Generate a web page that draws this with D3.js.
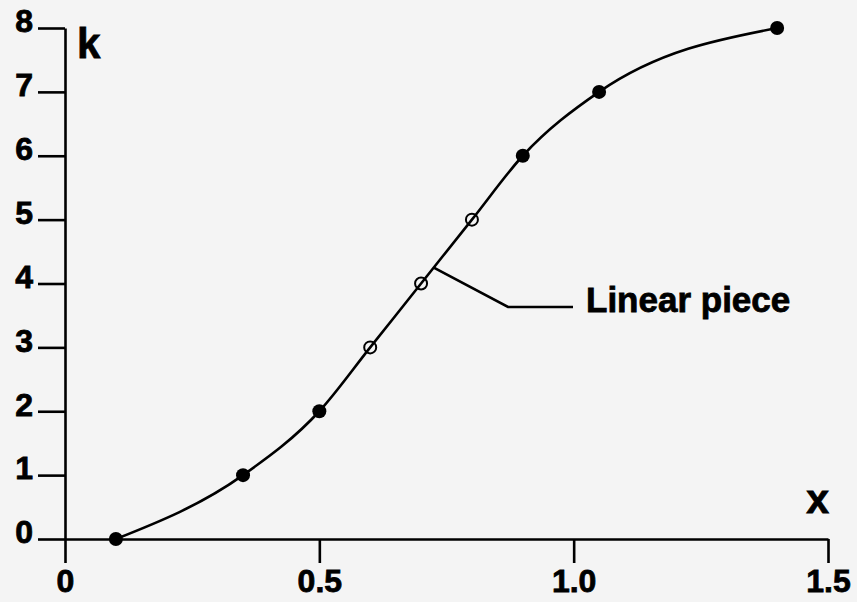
<!DOCTYPE html>
<html lang="en">
	<head>
		<meta charset="utf-8">
		<title>k vs x</title>
		<script type="text/javascript" src="https://cdn.jsdelivr.net/npm/d3@7"></script>
		<style type="text/css">
			body { margin: 0; background: #f4f4f4; }
			svg { display: block; }
			text { font-family: "Liberation Sans", Arial, sans-serif; font-weight: bold; fill: #000; stroke: #000; stroke-width: 0.8px; }
		</style>
	</head>
	<body>
		<script type="text/javascript">

			//Width and height
			var w = 857;
			var h = 602;

			//Data
			var xValues = [0.1, 0.35, 0.5, 0.6, 0.7, 0.8, 0.9, 1.05, 1.4];
			var kValues = [0, 1, 2, 3, 4, 5, 6, 7, 8];
			var hollow = [false, false, false, true, true, true, false, false, false];

			var xTicks = [0, 0.5, 1.0, 1.5];
			var xTickLabels = ["0", "0.5", "1.0", "1.5"];
			var yTicks = [0, 1, 2, 3, 4, 5, 6, 7, 8];

			var annotation = "Linear piece";
			var annotationAt = 0.725;   // x where the leader touches the curve

			var dataset = xValues.map(function(x, i) {
				return { x: x, k: kValues[i], open: hollow[i] };
			});

			//Scales
			var xScale = d3.scaleLinear()
						   .domain([0, 1.5])
						   .range([65, 828]);

			var yScale = d3.scaleLinear()
						   .domain([0, 8])
						   .range([539, 28]);

			var svg = d3.select("body")
						.append("svg")
						.attr("width", w)
						.attr("height", h);

			svg.append("rect")
			   .attr("width", w)
			   .attr("height", h)
			   .attr("fill", "#f4f4f4");

			//X axis
			var xAxis = d3.axisBottom(xScale)
						  .tickValues(xTicks)
						  .tickFormat(function(d, i) { return xTickLabels[i]; })
						  .tickSizeInner(24)
						  .tickSizeOuter(0)
						  .tickPadding(6);

			var gx = svg.append("g")
				.attr("transform", "translate(0," + yScale(0) + ")")
				.call(xAxis);

			//Y axis
			var yAxis = d3.axisLeft(yScale)
						  .tickValues(yTicks)
						  .tickSizeInner(27)
						  .tickSizeOuter(0)
						  .tickPadding(5);

			var gy = svg.append("g")
				.attr("transform", "translate(" + xScale(0) + ",0)")
				.call(yAxis);

			[gx, gy].forEach(function(g) {
				g.attr("font-family", null).attr("font-size", null);
				g.selectAll("path, line")
				 .attr("stroke", "#000")
				 .attr("stroke-width", 2.6);
				g.selectAll("text")
				 .attr("font-size", "32px")
				 .attr("fill", "#000");
			});
			gy.selectAll("text").attr("dy", "0.12em");

			//Axis names
			svg.append("text")
			   .attr("x", 77)
			   .attr("y", 58)
			   .attr("font-size", "42px")
			   .text("k");

			svg.append("text")
			   .attr("x", 829)
			   .attr("y", 513)
			   .attr("text-anchor", "end")
			   .attr("font-size", "41px")
			   .text("x");

			//Curve
			var line = d3.line()
						 .x(function(d) { return xScale(d.x); })
						 .y(function(d) { return yScale(d.k); })
						 .curve(d3.curveMonotoneX);

			svg.append("path")
			   .datum(dataset)
			   .attr("d", line)
			   .attr("fill", "none")
			   .attr("stroke", "#000")
			   .attr("stroke-width", 2.6);

			//Leader line for the annotation
			var ax = xScale(annotationAt);
			var ay = yScale(4 + (annotationAt - 0.7) * 10);
			svg.append("path")
			   .attr("d", "M" + ax + "," + ay + "L508,307L573,307")
			   .attr("fill", "none")
			   .attr("stroke", "#000")
			   .attr("stroke-width", 2.6);

			svg.append("text")
			   .attr("x", 586)
			   .attr("y", 312)
			   .attr("font-size", "35px")
			   .text(annotation);

			//Points
			svg.selectAll("circle")
			   .data(dataset)
			   .enter()
			   .append("circle")
			   .attr("cx", function(d) { return xScale(d.x); })
			   .attr("cy", function(d) { return yScale(d.k); })
			   .attr("r", function(d) { return d.open ? 6 : 7; })
			   .attr("fill", function(d) { return d.open ? "none" : "#000"; })
			   .attr("stroke", "#000")
			   .attr("stroke-width", function(d) { return d.open ? 2 : 0; });

		</script>
	</body>
</html>
